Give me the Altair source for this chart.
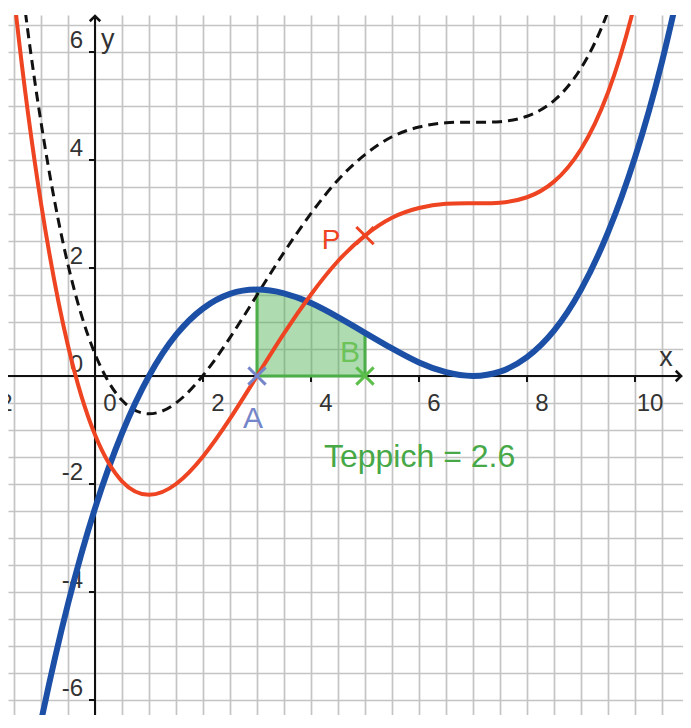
import altair as alt
import pandas as pd

# ---------------- data ----------------
xs = [-2, -1.5, -1, -0.5, 0, 0.5, 1, 1.5, 2, 2.5, 3, 3.5, 4, 4.5, 5, 5.5,
      6, 6.5, 7, 7.5, 8, 8.5, 9, 9.5, 10, 10.5, 11]
blue_y = [-12.15, -9.03, -6.4, -4.22, -2.45, -1.06, 0, 0.76, 1.25, 1.52, 1.6,
          1.53, 1.35, 1.09, 0.8, 0.51, 0.25, 0.07, 0, 0.08, 0.35, 0.84, 1.6,
          2.66, 4.05, 5.82, 8.0]
red_y = [12.31, 7.04, 3.2, 0.56, -1.09, -1.95, -2.2, -2.0, -1.49, -0.79, 0,
         0.79, 1.51, 2.13, 2.6, 2.93, 3.11, 3.19, 3.2, 3.21, 3.31, 3.6, 4.2,
         5.25, 6.91, 9.36, 12.8]
dash_y = [13.81, 8.54, 4.7, 2.06, 0.41, -0.45, -0.7, -0.5, 0.01, 0.71, 1.5,
          2.29, 3.01, 3.63, 4.1, 4.43, 4.61, 4.69, 4.7, 4.71, 4.81, 5.1, 5.7,
          6.75, 8.41, 10.86, 14.3]

area_from, area_to = 3, 5
teppich_text = "Teppich = 2.6"
teppich_pos = [4.24, -1.69]

pt_names = ["A", "B", "P"]
pt_x = [3, 5, 5]
pt_y = [0, 0, 2.6]
pt_colors = ["#7486c9", "#5cbf4a", "#ee4422"]

x_tick_vals = [2, 4, 6, 8, 10]
y_tick_vals = [-6, -4, -2, 2, 4, 6]
x_label_vals = [-2, 0, 2, 4, 6, 8, 10]
y_label_vals = [-6, -4, -2, 0, 2, 4, 6]

grid_x = [i * 0.5 for i in range(-4, 23)]
grid_y = [i * 0.5 for i in range(-14, 15)]

# ---------------- layout ----------------
W, H = 675, 700
X_DOM = [-1.6111, 10.8889]
Y_DOM = [-6.2778, 6.6852]
FONT = "Liberation Sans"

xsc = alt.Scale(domain=X_DOM, nice=False, zero=False)
ysc = alt.Scale(domain=Y_DOM, nice=False, zero=False)
xaxis = alt.Axis(values=grid_x, title=None, labels=False, ticks=False, domain=False,
                 grid=True, gridColor="#c4c4c4", gridWidth=1.7)
yaxis = alt.Axis(values=grid_y, title=None, labels=False, ticks=False, domain=False,
                 grid=True, gridColor="#c4c4c4", gridWidth=1.7)


def X(field="x"):
    return alt.X(field, type="quantitative", scale=xsc, axis=xaxis)


def Y(field="y"):
    return alt.Y(field, type="quantitative", scale=ysc, axis=yaxis)


curves = pd.DataFrame({"x": xs, "blue": blue_y, "red": red_y, "dash": dash_y})
area_df = curves[(curves.x >= area_from) & (curves.x <= area_to)][["x", "blue"]].rename(columns={"blue": "y"})
pts = pd.DataFrame({"name": pt_names, "x": pt_x, "y": pt_y, "c": pt_colors})
xt = pd.DataFrame({"x": x_tick_vals, "y": [0] * len(x_tick_vals)})
yt = pd.DataFrame({"x": [0] * len(y_tick_vals), "y": y_tick_vals})
xl = pd.DataFrame({"x": x_label_vals, "y": [0] * len(x_label_vals),
                   "t": [str(v) for v in x_label_vals]})
yl = pd.DataFrame({"x": [0] * len(y_label_vals), "y": y_label_vals,
                   "t": [str(v) for v in y_label_vals]})

base = alt.Chart(curves)

# grid holder (invisible points)
grid_layer = base.mark_point(opacity=0).encode(x=X("x"), y=Y("blue"))

# axes
x_axis_line = alt.Chart(xt).mark_rule(color="#111", strokeWidth=2).encode(
    x=alt.value(0), x2=alt.value(W - 2), y=Y("y"))
y_axis_line = alt.Chart(yt).mark_rule(color="#111", strokeWidth=2).encode(
    x=X("x"), y=alt.value(H), y2=alt.value(1))
x_arrow = alt.Chart(xt.head(1)).mark_point(
    shape="M -1 -1 L 0 0 L -1 1", filled=False, stroke="#111", strokeWidth=2.5,
    size=110, opacity=1).encode(x=alt.value(W - 2), y=Y("y"))
y_arrow = alt.Chart(yt.head(1)).mark_point(
    shape="M -1 1 L 0 0 L 1 1", filled=False, stroke="#111", strokeWidth=2.5,
    size=110, opacity=1).encode(x=X("x"), y=alt.value(1))
x_ticks = alt.Chart(xt).mark_point(
    shape="M 0 0 L 0 1", filled=False, stroke="#111", strokeWidth=2, size=144,
    opacity=1).encode(x=X("x"), y=Y("y"))
y_ticks = alt.Chart(yt).mark_point(
    shape="M 0 0 L -1 0", filled=False, stroke="#111", strokeWidth=2, size=144,
    opacity=1).encode(x=X("x"), y=Y("y"))
x_labels = alt.Chart(xl).mark_text(
    font=FONT, fontSize=24, color="#333", align="center", baseline="alphabetic",
    dx=15, dy=35).encode(x=X("x"), y=Y("y"), text="t:N")
y_labels = alt.Chart(yl).mark_text(
    font=FONT, fontSize=24, color="#333", align="right", baseline="alphabetic",
    dx=-12, dy=-4).encode(x=X("x"), y=Y("y"), text="t:N")
x_title = alt.Chart(xt.head(1)).mark_text(
    text="x", font=FONT, fontSize=27, color="#333", align="center",
    baseline="alphabetic", dy=-10).encode(x=alt.value(W - 17), y=Y("y"))
y_title = alt.Chart(yt.head(1)).mark_text(
    text="y", font=FONT, fontSize=27, color="#333", align="left",
    baseline="alphabetic", dx=6).encode(x=X("x"), y=alt.value(33))

# shaded area (Teppich)
area = alt.Chart(area_df).mark_area(
    interpolate="natural", fill="#4caf50", fillOpacity=0.45, stroke="#4cae48",
    strokeWidth=3).encode(x=X("x"), y=Y("y"), y2=alt.datum(0))

# curves
dash_line = base.mark_line(interpolate="natural", clip=True, color="#111",
                           strokeWidth=3, strokeDash=[10, 6]).encode(x=X("x"), y=Y("dash"))
blue_line = base.mark_line(interpolate="natural", clip=True, color="#1c4fa6",
                           strokeWidth=6).encode(x=X("x"), y=Y("blue"))
red_line = base.mark_line(interpolate="natural", clip=True, color="#ee4422",
                          strokeWidth=4).encode(x=X("x"), y=Y("red"))

# points
markers = alt.Chart(pts).mark_point(
    shape="M -1 -1 L 1 1 M -1 1 L 1 -1", filled=False, strokeWidth=3, size=300,
    opacity=1).encode(x=X("x"), y=Y("y"), stroke=alt.Color("c:N", scale=None))


def pt_label(name, color, dx, dy, size):
    return alt.Chart(pts[pts.name == name]).mark_text(
        font=FONT, fontSize=size, color=color, align="center", baseline="alphabetic",
        dx=dx, dy=dy).encode(x=X("x"), y=Y("y"), text="name:N")


lab_A = pt_label("A", "#7486c9", -4, 52, 30)
lab_B = pt_label("B", "#6cc35a", -15, -14, 30)
lab_P = pt_label("P", "#ee4422", -34, 13, 28)

tep_df = pd.DataFrame({"x": [teppich_pos[0]], "y": [teppich_pos[1]], "t": [teppich_text]})
teppich = alt.Chart(tep_df).mark_text(
    font=FONT, fontSize=32, color="#46a846", align="left", baseline="alphabetic"
).encode(x=X("x"), y=Y("y"), text="t:N")

chart = alt.layer(
    grid_layer, x_axis_line, y_axis_line, x_arrow, y_arrow, x_ticks, y_ticks,
    x_labels, y_labels, x_title, y_title, area, dash_line, blue_line, red_line,
    markers, lab_A, lab_B, lab_P, teppich
).properties(
    width=W, height=H,
    autosize=alt.AutoSizeParams(type="none"),
    padding={"left": 0, "top": 7, "right": 0, "bottom": 0},
    background="white",
).configure_view(stroke=None)

chart.save("out.html", embed_options={"renderer": "svg", "actions": False})
